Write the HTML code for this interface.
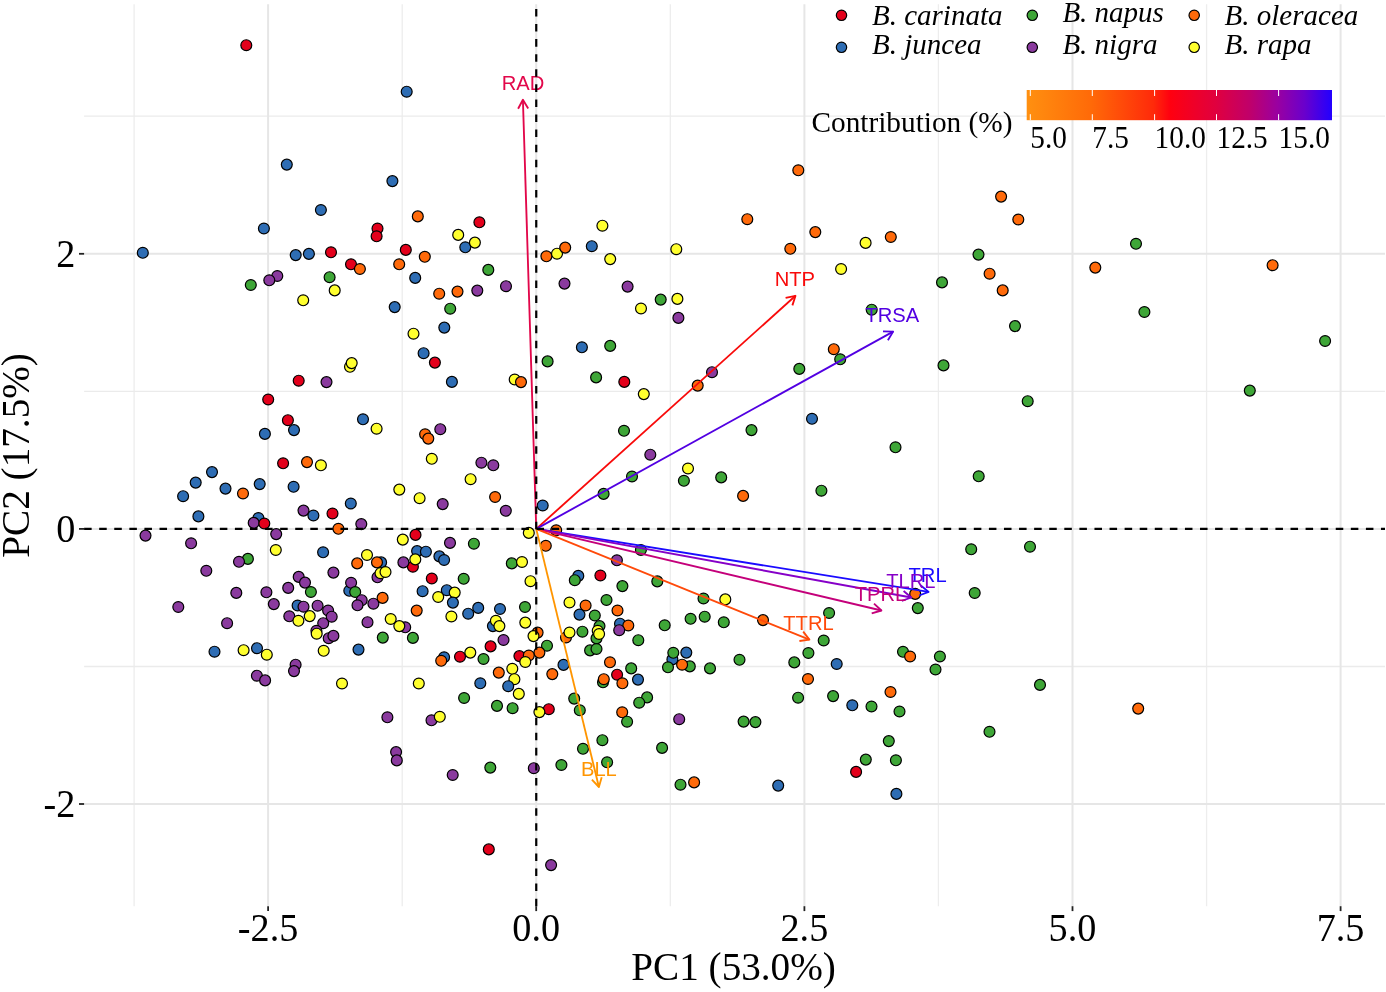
<!DOCTYPE html><html><head><meta charset="utf-8"><style>html,body{margin:0;padding:0;background:#fff;overflow:hidden}svg{display:block;will-change:transform}</style></head><body>
<svg width="1386" height="992" viewBox="0 0 1386 992">
<rect width="1386" height="992" fill="#fff"/>
<line x1="134.1" y1="4.2" x2="134.1" y2="906.2" stroke="#EDEDED" stroke-width="1.3"/><line x1="402.2" y1="4.2" x2="402.2" y2="906.2" stroke="#EDEDED" stroke-width="1.3"/><line x1="670.3" y1="4.2" x2="670.3" y2="906.2" stroke="#EDEDED" stroke-width="1.3"/><line x1="938.4" y1="4.2" x2="938.4" y2="906.2" stroke="#EDEDED" stroke-width="1.3"/><line x1="1206.6" y1="4.2" x2="1206.6" y2="906.2" stroke="#EDEDED" stroke-width="1.3"/><line x1="84.1" y1="116.2" x2="1385.0" y2="116.2" stroke="#EBEBEB" stroke-width="1.3"/><line x1="84.1" y1="391.3" x2="1385.0" y2="391.3" stroke="#EBEBEB" stroke-width="1.3"/><line x1="84.1" y1="666.5" x2="1385.0" y2="666.5" stroke="#EBEBEB" stroke-width="1.3"/><line x1="268.1" y1="4.2" x2="268.1" y2="906.2" stroke="#E6E6E6" stroke-width="2"/><line x1="536.2" y1="4.2" x2="536.2" y2="906.2" stroke="#E6E6E6" stroke-width="2"/><line x1="804.4" y1="4.2" x2="804.4" y2="906.2" stroke="#E6E6E6" stroke-width="2"/><line x1="1072.5" y1="4.2" x2="1072.5" y2="906.2" stroke="#E6E6E6" stroke-width="2"/><line x1="1340.6" y1="4.2" x2="1340.6" y2="906.2" stroke="#E6E6E6" stroke-width="2"/><line x1="84.1" y1="253.8" x2="1385.0" y2="253.8" stroke="#E6E6E6" stroke-width="2"/><line x1="84.1" y1="528.9" x2="1385.0" y2="528.9" stroke="#E6E6E6" stroke-width="2"/><line x1="84.1" y1="804.0" x2="1385.0" y2="804.0" stroke="#E6E6E6" stroke-width="2"/>
<g stroke="#000" stroke-width="1.2">
<circle cx="349.3" cy="590.8" r="5.45" fill="#2E6DB4"/>
<circle cx="350.0" cy="366.8" r="5.45" fill="#FFFF2E"/>
<circle cx="381.1" cy="562.4" r="5.45" fill="#2E6DB4"/>
<circle cx="405.2" cy="627.3" r="5.45" fill="#8A3A9E"/>
<circle cx="412.9" cy="566.7" r="5.45" fill="#E3001B"/>
<circle cx="596.5" cy="638.4" r="5.45" fill="#3EA637"/>
<circle cx="672.4" cy="659.4" r="5.45" fill="#2E6DB4"/>
<circle cx="689.8" cy="666.4" r="5.45" fill="#3EA637"/>
<circle cx="566.0" cy="637.5" r="5.45" fill="#FF6A0A"/>
<circle cx="548.8" cy="709.2" r="5.45" fill="#E3001B"/>
<circle cx="246.3" cy="45.2" r="5.45" fill="#E3001B"/>
<circle cx="286.8" cy="164.6" r="5.45" fill="#2E6DB4"/>
<circle cx="392.4" cy="181.1" r="5.45" fill="#2E6DB4"/>
<circle cx="320.9" cy="210.0" r="5.45" fill="#2E6DB4"/>
<circle cx="406.7" cy="91.7" r="5.45" fill="#2E6DB4"/>
<circle cx="417.8" cy="216.4" r="5.45" fill="#FF6A0A"/>
<circle cx="479.4" cy="222.3" r="5.45" fill="#E3001B"/>
<circle cx="798.3" cy="170.3" r="5.45" fill="#FF6A0A"/>
<circle cx="1001.1" cy="196.6" r="5.45" fill="#FF6A0A"/>
<circle cx="747.3" cy="219.2" r="5.45" fill="#FF6A0A"/>
<circle cx="1018.3" cy="219.5" r="5.45" fill="#FF6A0A"/>
<circle cx="263.9" cy="228.5" r="5.45" fill="#2E6DB4"/>
<circle cx="377.5" cy="228.5" r="5.45" fill="#E3001B"/>
<circle cx="376.6" cy="236.3" r="5.45" fill="#E3001B"/>
<circle cx="142.8" cy="252.8" r="5.45" fill="#2E6DB4"/>
<circle cx="295.7" cy="255.1" r="5.45" fill="#2E6DB4"/>
<circle cx="308.9" cy="253.9" r="5.45" fill="#2E6DB4"/>
<circle cx="331.0" cy="252.3" r="5.45" fill="#E3001B"/>
<circle cx="405.8" cy="249.9" r="5.45" fill="#E3001B"/>
<circle cx="351.0" cy="264.3" r="5.45" fill="#E3001B"/>
<circle cx="359.9" cy="269.0" r="5.45" fill="#FF6A0A"/>
<circle cx="399.2" cy="264.3" r="5.45" fill="#FF6A0A"/>
<circle cx="329.6" cy="277.2" r="5.45" fill="#3EA637"/>
<circle cx="277.3" cy="276.0" r="5.45" fill="#8A3A9E"/>
<circle cx="269.3" cy="280.3" r="5.45" fill="#8A3A9E"/>
<circle cx="250.8" cy="285.0" r="5.45" fill="#3EA637"/>
<circle cx="334.7" cy="290.4" r="5.45" fill="#FFFF2E"/>
<circle cx="303.2" cy="300.3" r="5.45" fill="#FFFF2E"/>
<circle cx="394.7" cy="307.1" r="5.45" fill="#2E6DB4"/>
<circle cx="351.7" cy="363.1" r="5.45" fill="#FFFF2E"/>
<circle cx="298.7" cy="380.7" r="5.45" fill="#E3001B"/>
<circle cx="326.5" cy="382.1" r="5.45" fill="#8A3A9E"/>
<circle cx="268.2" cy="399.5" r="5.45" fill="#E3001B"/>
<circle cx="287.9" cy="420.2" r="5.45" fill="#E3001B"/>
<circle cx="294.0" cy="430.1" r="5.45" fill="#2E6DB4"/>
<circle cx="264.9" cy="433.9" r="5.45" fill="#2E6DB4"/>
<circle cx="363.0" cy="419.3" r="5.45" fill="#2E6DB4"/>
<circle cx="376.6" cy="428.7" r="5.45" fill="#FFFF2E"/>
<circle cx="602.4" cy="225.7" r="5.45" fill="#FFFF2E"/>
<circle cx="458.2" cy="234.9" r="5.45" fill="#FFFF2E"/>
<circle cx="465.3" cy="247.3" r="5.45" fill="#2E6DB4"/>
<circle cx="474.9" cy="242.6" r="5.45" fill="#FFFF2E"/>
<circle cx="424.8" cy="256.8" r="5.45" fill="#FF6A0A"/>
<circle cx="488.3" cy="269.9" r="5.45" fill="#3EA637"/>
<circle cx="415.2" cy="277.9" r="5.45" fill="#2E6DB4"/>
<circle cx="506.0" cy="286.2" r="5.45" fill="#8A3A9E"/>
<circle cx="439.2" cy="293.7" r="5.45" fill="#FF6A0A"/>
<circle cx="457.5" cy="291.6" r="5.45" fill="#FF6A0A"/>
<circle cx="477.3" cy="290.6" r="5.45" fill="#8A3A9E"/>
<circle cx="450.2" cy="308.7" r="5.45" fill="#3EA637"/>
<circle cx="444.3" cy="327.6" r="5.45" fill="#2E6DB4"/>
<circle cx="413.5" cy="333.7" r="5.45" fill="#FFFF2E"/>
<circle cx="423.6" cy="353.2" r="5.45" fill="#2E6DB4"/>
<circle cx="434.9" cy="362.6" r="5.45" fill="#E3001B"/>
<circle cx="451.9" cy="381.9" r="5.45" fill="#2E6DB4"/>
<circle cx="514.7" cy="379.5" r="5.45" fill="#FFFF2E"/>
<circle cx="521.0" cy="382.1" r="5.45" fill="#FF6A0A"/>
<circle cx="425.1" cy="434.3" r="5.45" fill="#FF6A0A"/>
<circle cx="428.3" cy="438.6" r="5.45" fill="#FF6A0A"/>
<circle cx="440.3" cy="429.2" r="5.45" fill="#8A3A9E"/>
<circle cx="546.4" cy="256.3" r="5.45" fill="#FF6A0A"/>
<circle cx="557.0" cy="253.7" r="5.45" fill="#FFFF2E"/>
<circle cx="565.2" cy="247.6" r="5.45" fill="#FF6A0A"/>
<circle cx="591.8" cy="246.2" r="5.45" fill="#2E6DB4"/>
<circle cx="610.2" cy="259.1" r="5.45" fill="#FFFF2E"/>
<circle cx="676.3" cy="249.2" r="5.45" fill="#FFFF2E"/>
<circle cx="564.5" cy="283.6" r="5.45" fill="#8A3A9E"/>
<circle cx="627.6" cy="286.6" r="5.45" fill="#8A3A9E"/>
<circle cx="660.7" cy="299.6" r="5.45" fill="#3EA637"/>
<circle cx="677.4" cy="298.9" r="5.45" fill="#FFFF2E"/>
<circle cx="641.0" cy="308.5" r="5.45" fill="#FFFF2E"/>
<circle cx="678.4" cy="317.9" r="5.45" fill="#8A3A9E"/>
<circle cx="581.9" cy="347.3" r="5.45" fill="#2E6DB4"/>
<circle cx="610.2" cy="345.9" r="5.45" fill="#3EA637"/>
<circle cx="547.6" cy="361.4" r="5.45" fill="#3EA637"/>
<circle cx="596.1" cy="377.4" r="5.45" fill="#3EA637"/>
<circle cx="624.3" cy="381.9" r="5.45" fill="#E3001B"/>
<circle cx="643.8" cy="394.1" r="5.45" fill="#FFFF2E"/>
<circle cx="697.7" cy="385.6" r="5.45" fill="#FF6A0A"/>
<circle cx="712.0" cy="372.2" r="5.45" fill="#8A3A9E"/>
<circle cx="624.0" cy="430.8" r="5.45" fill="#3EA637"/>
<circle cx="815.3" cy="232.1" r="5.45" fill="#FF6A0A"/>
<circle cx="790.3" cy="248.8" r="5.45" fill="#FF6A0A"/>
<circle cx="865.6" cy="242.9" r="5.45" fill="#FFFF2E"/>
<circle cx="890.8" cy="237.0" r="5.45" fill="#FF6A0A"/>
<circle cx="841.1" cy="269.0" r="5.45" fill="#FFFF2E"/>
<circle cx="978.5" cy="254.6" r="5.45" fill="#3EA637"/>
<circle cx="989.6" cy="273.7" r="5.45" fill="#FF6A0A"/>
<circle cx="1002.7" cy="290.4" r="5.45" fill="#FF6A0A"/>
<circle cx="942.0" cy="282.4" r="5.45" fill="#3EA637"/>
<circle cx="871.7" cy="309.7" r="5.45" fill="#3EA637"/>
<circle cx="1015.0" cy="326.1" r="5.45" fill="#3EA637"/>
<circle cx="833.8" cy="349.2" r="5.45" fill="#FF6A0A"/>
<circle cx="840.2" cy="359.3" r="5.45" fill="#3EA637"/>
<circle cx="799.3" cy="368.9" r="5.45" fill="#3EA637"/>
<circle cx="943.5" cy="365.4" r="5.45" fill="#3EA637"/>
<circle cx="1027.7" cy="401.2" r="5.45" fill="#3EA637"/>
<circle cx="812.0" cy="418.8" r="5.45" fill="#2E6DB4"/>
<circle cx="751.5" cy="430.1" r="5.45" fill="#3EA637"/>
<circle cx="895.5" cy="447.3" r="5.45" fill="#3EA637"/>
<circle cx="1136.0" cy="243.8" r="5.45" fill="#3EA637"/>
<circle cx="1095.3" cy="267.6" r="5.45" fill="#FF6A0A"/>
<circle cx="1272.6" cy="265.2" r="5.45" fill="#FF6A0A"/>
<circle cx="1144.4" cy="312.0" r="5.45" fill="#3EA637"/>
<circle cx="1325.1" cy="341.0" r="5.45" fill="#3EA637"/>
<circle cx="1249.8" cy="390.6" r="5.45" fill="#3EA637"/>
<circle cx="212.0" cy="472.1" r="5.45" fill="#2E6DB4"/>
<circle cx="195.7" cy="482.6" r="5.45" fill="#2E6DB4"/>
<circle cx="183.1" cy="496.2" r="5.45" fill="#2E6DB4"/>
<circle cx="225.5" cy="488.6" r="5.45" fill="#2E6DB4"/>
<circle cx="243.0" cy="493.5" r="5.45" fill="#FF6A0A"/>
<circle cx="198.4" cy="516.4" r="5.45" fill="#2E6DB4"/>
<circle cx="145.5" cy="535.6" r="5.45" fill="#8A3A9E"/>
<circle cx="191.1" cy="543.3" r="5.45" fill="#8A3A9E"/>
<circle cx="283.1" cy="463.3" r="5.45" fill="#E3001B"/>
<circle cx="307.0" cy="462.1" r="5.45" fill="#FF6A0A"/>
<circle cx="320.9" cy="465.3" r="5.45" fill="#FFFF2E"/>
<circle cx="259.7" cy="484.1" r="5.45" fill="#2E6DB4"/>
<circle cx="293.6" cy="486.8" r="5.45" fill="#2E6DB4"/>
<circle cx="399.3" cy="489.6" r="5.45" fill="#FFFF2E"/>
<circle cx="350.8" cy="503.5" r="5.45" fill="#2E6DB4"/>
<circle cx="303.5" cy="510.6" r="5.45" fill="#8A3A9E"/>
<circle cx="313.4" cy="515.5" r="5.45" fill="#2E6DB4"/>
<circle cx="332.5" cy="513.5" r="5.45" fill="#E3001B"/>
<circle cx="258.4" cy="518.0" r="5.45" fill="#2E6DB4"/>
<circle cx="253.7" cy="522.9" r="5.45" fill="#8A3A9E"/>
<circle cx="264.3" cy="523.5" r="5.45" fill="#E3001B"/>
<circle cx="361.3" cy="524.1" r="5.45" fill="#8A3A9E"/>
<circle cx="338.4" cy="528.8" r="5.45" fill="#FF6A0A"/>
<circle cx="276.2" cy="534.1" r="5.45" fill="#8A3A9E"/>
<circle cx="402.8" cy="539.6" r="5.45" fill="#FFFF2E"/>
<circle cx="275.8" cy="550.0" r="5.45" fill="#FFFF2E"/>
<circle cx="323.1" cy="552.3" r="5.45" fill="#2E6DB4"/>
<circle cx="367.0" cy="555.0" r="5.45" fill="#FFFF2E"/>
<circle cx="247.9" cy="558.9" r="5.45" fill="#3EA637"/>
<circle cx="239.0" cy="561.8" r="5.45" fill="#8A3A9E"/>
<circle cx="206.3" cy="570.8" r="5.45" fill="#8A3A9E"/>
<circle cx="236.3" cy="592.9" r="5.45" fill="#8A3A9E"/>
<circle cx="178.3" cy="607.0" r="5.45" fill="#8A3A9E"/>
<circle cx="227.1" cy="623.2" r="5.45" fill="#8A3A9E"/>
<circle cx="214.5" cy="651.7" r="5.45" fill="#2E6DB4"/>
<circle cx="243.6" cy="650.2" r="5.45" fill="#FFFF2E"/>
<circle cx="357.2" cy="563.4" r="5.45" fill="#FF6A0A"/>
<circle cx="377.0" cy="562.4" r="5.45" fill="#FF6A0A"/>
<circle cx="403.4" cy="562.4" r="5.45" fill="#8A3A9E"/>
<circle cx="333.4" cy="572.6" r="5.45" fill="#8A3A9E"/>
<circle cx="298.7" cy="576.9" r="5.45" fill="#8A3A9E"/>
<circle cx="305.0" cy="582.6" r="5.45" fill="#8A3A9E"/>
<circle cx="310.9" cy="592.0" r="5.45" fill="#3EA637"/>
<circle cx="288.2" cy="587.9" r="5.45" fill="#8A3A9E"/>
<circle cx="266.4" cy="592.3" r="5.45" fill="#8A3A9E"/>
<circle cx="273.8" cy="604.1" r="5.45" fill="#8A3A9E"/>
<circle cx="351.1" cy="582.8" r="5.45" fill="#8A3A9E"/>
<circle cx="355.2" cy="592.0" r="5.45" fill="#3EA637"/>
<circle cx="361.7" cy="600.2" r="5.45" fill="#8A3A9E"/>
<circle cx="357.5" cy="605.3" r="5.45" fill="#8A3A9E"/>
<circle cx="373.4" cy="603.7" r="5.45" fill="#8A3A9E"/>
<circle cx="382.6" cy="597.9" r="5.45" fill="#FF6A0A"/>
<circle cx="377.5" cy="577.3" r="5.45" fill="#8A3A9E"/>
<circle cx="380.5" cy="573.2" r="5.45" fill="#FFFF2E"/>
<circle cx="385.5" cy="572.0" r="5.45" fill="#FFFF2E"/>
<circle cx="297.6" cy="605.5" r="5.45" fill="#2E6DB4"/>
<circle cx="303.5" cy="606.7" r="5.45" fill="#8A3A9E"/>
<circle cx="317.6" cy="605.7" r="5.45" fill="#8A3A9E"/>
<circle cx="328.1" cy="610.5" r="5.45" fill="#8A3A9E"/>
<circle cx="331.7" cy="616.7" r="5.45" fill="#8A3A9E"/>
<circle cx="289.3" cy="616.3" r="5.45" fill="#8A3A9E"/>
<circle cx="298.4" cy="620.8" r="5.45" fill="#FFFF2E"/>
<circle cx="309.7" cy="616.1" r="5.45" fill="#FFFF2E"/>
<circle cx="323.2" cy="623.2" r="5.45" fill="#8A3A9E"/>
<circle cx="316.4" cy="630.8" r="5.45" fill="#8A3A9E"/>
<circle cx="316.7" cy="633.7" r="5.45" fill="#FFFF2E"/>
<circle cx="328.7" cy="638.2" r="5.45" fill="#8A3A9E"/>
<circle cx="333.4" cy="635.9" r="5.45" fill="#8A3A9E"/>
<circle cx="367.5" cy="622.2" r="5.45" fill="#8A3A9E"/>
<circle cx="390.7" cy="619.0" r="5.45" fill="#FFFF2E"/>
<circle cx="399.3" cy="626.1" r="5.45" fill="#FFFF2E"/>
<circle cx="382.8" cy="637.6" r="5.45" fill="#3EA637"/>
<circle cx="358.5" cy="649.6" r="5.45" fill="#2E6DB4"/>
<circle cx="323.7" cy="650.8" r="5.45" fill="#FFFF2E"/>
<circle cx="257.0" cy="648.2" r="5.45" fill="#2E6DB4"/>
<circle cx="266.8" cy="654.7" r="5.45" fill="#FFFF2E"/>
<circle cx="295.6" cy="664.7" r="5.45" fill="#8A3A9E"/>
<circle cx="294.0" cy="671.1" r="5.45" fill="#8A3A9E"/>
<circle cx="431.8" cy="458.8" r="5.45" fill="#FFFF2E"/>
<circle cx="481.4" cy="462.7" r="5.45" fill="#8A3A9E"/>
<circle cx="493.3" cy="465.3" r="5.45" fill="#8A3A9E"/>
<circle cx="470.6" cy="479.2" r="5.45" fill="#FFFF2E"/>
<circle cx="419.6" cy="498.2" r="5.45" fill="#FFFF2E"/>
<circle cx="442.7" cy="504.1" r="5.45" fill="#8A3A9E"/>
<circle cx="495.1" cy="497.0" r="5.45" fill="#FF6A0A"/>
<circle cx="505.8" cy="510.8" r="5.45" fill="#8A3A9E"/>
<circle cx="542.7" cy="505.5" r="5.45" fill="#2E6DB4"/>
<circle cx="528.8" cy="532.9" r="5.45" fill="#FFFF2E"/>
<circle cx="556.2" cy="530.3" r="5.45" fill="#FF6A0A"/>
<circle cx="415.5" cy="534.9" r="5.45" fill="#E3001B"/>
<circle cx="450.0" cy="542.9" r="5.45" fill="#8A3A9E"/>
<circle cx="473.9" cy="543.7" r="5.45" fill="#3EA637"/>
<circle cx="545.8" cy="545.8" r="5.45" fill="#FF6A0A"/>
<circle cx="417.1" cy="551.1" r="5.45" fill="#2E6DB4"/>
<circle cx="425.9" cy="551.7" r="5.45" fill="#2E6DB4"/>
<circle cx="439.4" cy="556.4" r="5.45" fill="#2E6DB4"/>
<circle cx="444.1" cy="560.0" r="5.45" fill="#2E6DB4"/>
<circle cx="415.3" cy="559.4" r="5.45" fill="#FFFF2E"/>
<circle cx="511.8" cy="563.4" r="5.45" fill="#3EA637"/>
<circle cx="522.0" cy="562.0" r="5.45" fill="#FFFF2E"/>
<circle cx="431.8" cy="578.5" r="5.45" fill="#E3001B"/>
<circle cx="463.7" cy="578.8" r="5.45" fill="#3EA637"/>
<circle cx="422.6" cy="591.2" r="5.45" fill="#2E6DB4"/>
<circle cx="446.8" cy="590.2" r="5.45" fill="#2E6DB4"/>
<circle cx="438.2" cy="597.0" r="5.45" fill="#FFFF2E"/>
<circle cx="454.7" cy="592.6" r="5.45" fill="#FFFF2E"/>
<circle cx="452.9" cy="602.6" r="5.45" fill="#2E6DB4"/>
<circle cx="416.7" cy="610.6" r="5.45" fill="#FF6A0A"/>
<circle cx="451.4" cy="616.5" r="5.45" fill="#FFFF2E"/>
<circle cx="468.2" cy="613.7" r="5.45" fill="#2E6DB4"/>
<circle cx="478.2" cy="607.9" r="5.45" fill="#2E6DB4"/>
<circle cx="500.0" cy="609.0" r="5.45" fill="#2E6DB4"/>
<circle cx="530.5" cy="581.2" r="5.45" fill="#FFFF2E"/>
<circle cx="525.0" cy="607.0" r="5.45" fill="#3EA637"/>
<circle cx="525.3" cy="622.6" r="5.45" fill="#FFFF2E"/>
<circle cx="492.9" cy="626.1" r="5.45" fill="#2E6DB4"/>
<circle cx="495.9" cy="620.8" r="5.45" fill="#FFFF2E"/>
<circle cx="499.4" cy="626.1" r="5.45" fill="#FFFF2E"/>
<circle cx="412.9" cy="637.9" r="5.45" fill="#3EA637"/>
<circle cx="503.5" cy="640.0" r="5.45" fill="#8A3A9E"/>
<circle cx="490.6" cy="646.4" r="5.45" fill="#E3001B"/>
<circle cx="537.6" cy="632.6" r="5.45" fill="#FF6A0A"/>
<circle cx="533.5" cy="636.1" r="5.45" fill="#FFFF2E"/>
<circle cx="547.0" cy="645.7" r="5.45" fill="#3EA637"/>
<circle cx="539.4" cy="652.6" r="5.45" fill="#FF6A0A"/>
<circle cx="519.4" cy="656.1" r="5.45" fill="#E3001B"/>
<circle cx="528.8" cy="655.5" r="5.45" fill="#FF6A0A"/>
<circle cx="525.3" cy="662.0" r="5.45" fill="#FFFF2E"/>
<circle cx="460.0" cy="656.7" r="5.45" fill="#E3001B"/>
<circle cx="470.3" cy="652.6" r="5.45" fill="#FFFF2E"/>
<circle cx="483.5" cy="659.0" r="5.45" fill="#3EA637"/>
<circle cx="444.1" cy="657.3" r="5.45" fill="#2E6DB4"/>
<circle cx="441.2" cy="660.8" r="5.45" fill="#FF6A0A"/>
<circle cx="512.3" cy="668.8" r="5.45" fill="#FFFF2E"/>
<circle cx="563.5" cy="664.9" r="5.45" fill="#2E6DB4"/>
<circle cx="650.3" cy="454.7" r="5.45" fill="#8A3A9E"/>
<circle cx="688.0" cy="468.5" r="5.45" fill="#FFFF2E"/>
<circle cx="683.9" cy="480.8" r="5.45" fill="#3EA637"/>
<circle cx="721.2" cy="477.4" r="5.45" fill="#3EA637"/>
<circle cx="632.0" cy="476.5" r="5.45" fill="#3EA637"/>
<circle cx="603.6" cy="493.9" r="5.45" fill="#3EA637"/>
<circle cx="640.9" cy="550.0" r="5.45" fill="#3EA637"/>
<circle cx="616.9" cy="560.3" r="5.45" fill="#8A3A9E"/>
<circle cx="578.3" cy="575.9" r="5.45" fill="#2E6DB4"/>
<circle cx="574.8" cy="580.2" r="5.45" fill="#3EA637"/>
<circle cx="600.4" cy="575.5" r="5.45" fill="#E3001B"/>
<circle cx="622.4" cy="586.1" r="5.45" fill="#3EA637"/>
<circle cx="657.3" cy="581.4" r="5.45" fill="#3EA637"/>
<circle cx="606.5" cy="600.0" r="5.45" fill="#3EA637"/>
<circle cx="585.6" cy="605.5" r="5.45" fill="#FF6A0A"/>
<circle cx="579.5" cy="614.6" r="5.45" fill="#2E6DB4"/>
<circle cx="594.8" cy="615.5" r="5.45" fill="#3EA637"/>
<circle cx="617.5" cy="610.5" r="5.45" fill="#FF6A0A"/>
<circle cx="599.5" cy="626.1" r="5.45" fill="#3EA637"/>
<circle cx="597.7" cy="630.8" r="5.45" fill="#FFFF2E"/>
<circle cx="599.1" cy="634.0" r="5.45" fill="#FFFF2E"/>
<circle cx="582.4" cy="631.7" r="5.45" fill="#3EA637"/>
<circle cx="620.0" cy="623.7" r="5.45" fill="#2E6DB4"/>
<circle cx="628.3" cy="625.5" r="5.45" fill="#FF6A0A"/>
<circle cx="619.2" cy="630.2" r="5.45" fill="#8A3A9E"/>
<circle cx="664.7" cy="625.3" r="5.45" fill="#3EA637"/>
<circle cx="638.3" cy="640.2" r="5.45" fill="#3EA637"/>
<circle cx="590.1" cy="650.4" r="5.45" fill="#3EA637"/>
<circle cx="596.5" cy="649.0" r="5.45" fill="#3EA637"/>
<circle cx="610.0" cy="662.3" r="5.45" fill="#FF6A0A"/>
<circle cx="631.2" cy="668.4" r="5.45" fill="#3EA637"/>
<circle cx="703.5" cy="598.5" r="5.45" fill="#3EA637"/>
<circle cx="725.3" cy="599.4" r="5.45" fill="#FFFF2E"/>
<circle cx="690.6" cy="618.8" r="5.45" fill="#3EA637"/>
<circle cx="704.7" cy="616.7" r="5.45" fill="#3EA637"/>
<circle cx="723.8" cy="622.3" r="5.45" fill="#3EA637"/>
<circle cx="673.3" cy="652.8" r="5.45" fill="#3EA637"/>
<circle cx="686.3" cy="652.6" r="5.45" fill="#2E6DB4"/>
<circle cx="682.1" cy="664.7" r="5.45" fill="#FF6A0A"/>
<circle cx="668.0" cy="667.3" r="5.45" fill="#3EA637"/>
<circle cx="710.0" cy="668.4" r="5.45" fill="#3EA637"/>
<circle cx="569.5" cy="602.5" r="5.45" fill="#FFFF2E"/>
<circle cx="569.5" cy="632.5" r="5.45" fill="#FFFF2E"/>
<circle cx="978.7" cy="476.3" r="5.45" fill="#3EA637"/>
<circle cx="743.1" cy="495.9" r="5.45" fill="#FF6A0A"/>
<circle cx="821.4" cy="490.7" r="5.45" fill="#3EA637"/>
<circle cx="971.2" cy="549.3" r="5.45" fill="#3EA637"/>
<circle cx="1030.0" cy="546.7" r="5.45" fill="#3EA637"/>
<circle cx="915.2" cy="593.9" r="5.45" fill="#FF6A0A"/>
<circle cx="917.8" cy="608.1" r="5.45" fill="#3EA637"/>
<circle cx="974.7" cy="593.0" r="5.45" fill="#3EA637"/>
<circle cx="829.1" cy="613.0" r="5.45" fill="#3EA637"/>
<circle cx="763.0" cy="620.1" r="5.45" fill="#FF6A0A"/>
<circle cx="823.7" cy="640.5" r="5.45" fill="#3EA637"/>
<circle cx="808.4" cy="653.0" r="5.45" fill="#3EA637"/>
<circle cx="739.5" cy="659.8" r="5.45" fill="#3EA637"/>
<circle cx="794.3" cy="662.4" r="5.45" fill="#3EA637"/>
<circle cx="836.7" cy="664.0" r="5.45" fill="#2E6DB4"/>
<circle cx="903.0" cy="651.8" r="5.45" fill="#3EA637"/>
<circle cx="910.1" cy="656.5" r="5.45" fill="#FF6A0A"/>
<circle cx="939.9" cy="656.5" r="5.45" fill="#3EA637"/>
<circle cx="935.5" cy="669.5" r="5.45" fill="#3EA637"/>
<circle cx="256.9" cy="675.7" r="5.45" fill="#8A3A9E"/>
<circle cx="265.1" cy="680.4" r="5.45" fill="#8A3A9E"/>
<circle cx="342.0" cy="683.5" r="5.45" fill="#FFFF2E"/>
<circle cx="387.4" cy="717.3" r="5.45" fill="#8A3A9E"/>
<circle cx="396.1" cy="752.1" r="5.45" fill="#8A3A9E"/>
<circle cx="396.8" cy="760.4" r="5.45" fill="#8A3A9E"/>
<circle cx="498.8" cy="672.6" r="5.45" fill="#FF6A0A"/>
<circle cx="552.3" cy="674.1" r="5.45" fill="#FF6A0A"/>
<circle cx="418.8" cy="683.5" r="5.45" fill="#FFFF2E"/>
<circle cx="480.3" cy="683.3" r="5.45" fill="#2E6DB4"/>
<circle cx="514.4" cy="679.2" r="5.45" fill="#FFFF2E"/>
<circle cx="508.2" cy="686.2" r="5.45" fill="#2E6DB4"/>
<circle cx="518.8" cy="693.9" r="5.45" fill="#FFFF2E"/>
<circle cx="464.1" cy="698.0" r="5.45" fill="#3EA637"/>
<circle cx="497.0" cy="705.9" r="5.45" fill="#3EA637"/>
<circle cx="512.6" cy="708.2" r="5.45" fill="#3EA637"/>
<circle cx="539.4" cy="712.1" r="5.45" fill="#FFFF2E"/>
<circle cx="431.5" cy="720.3" r="5.45" fill="#8A3A9E"/>
<circle cx="439.8" cy="716.8" r="5.45" fill="#FFFF2E"/>
<circle cx="490.3" cy="767.6" r="5.45" fill="#3EA637"/>
<circle cx="533.8" cy="768.2" r="5.45" fill="#8A3A9E"/>
<circle cx="561.4" cy="765.0" r="5.45" fill="#3EA637"/>
<circle cx="452.7" cy="775.0" r="5.45" fill="#8A3A9E"/>
<circle cx="617.1" cy="674.7" r="5.45" fill="#E3001B"/>
<circle cx="603.0" cy="682.3" r="5.45" fill="#3EA637"/>
<circle cx="603.8" cy="679.2" r="5.45" fill="#FF6A0A"/>
<circle cx="622.4" cy="683.3" r="5.45" fill="#FF6A0A"/>
<circle cx="638.0" cy="679.6" r="5.45" fill="#2E6DB4"/>
<circle cx="647.1" cy="697.4" r="5.45" fill="#3EA637"/>
<circle cx="639.2" cy="702.7" r="5.45" fill="#3EA637"/>
<circle cx="574.2" cy="698.6" r="5.45" fill="#3EA637"/>
<circle cx="579.8" cy="710.3" r="5.45" fill="#3EA637"/>
<circle cx="622.2" cy="712.3" r="5.45" fill="#FF6A0A"/>
<circle cx="627.1" cy="721.7" r="5.45" fill="#3EA637"/>
<circle cx="679.2" cy="719.2" r="5.45" fill="#8A3A9E"/>
<circle cx="602.4" cy="740.2" r="5.45" fill="#3EA637"/>
<circle cx="583.0" cy="748.8" r="5.45" fill="#3EA637"/>
<circle cx="662.1" cy="747.9" r="5.45" fill="#3EA637"/>
<circle cx="607.1" cy="762.3" r="5.45" fill="#3EA637"/>
<circle cx="680.5" cy="784.7" r="5.45" fill="#3EA637"/>
<circle cx="694.1" cy="782.4" r="5.45" fill="#FF6A0A"/>
<circle cx="488.8" cy="849.4" r="5.45" fill="#E3001B"/>
<circle cx="551.1" cy="865.1" r="5.45" fill="#8A3A9E"/>
<circle cx="808.0" cy="679.0" r="5.45" fill="#FF6A0A"/>
<circle cx="1040.0" cy="684.9" r="5.45" fill="#3EA637"/>
<circle cx="798.1" cy="697.7" r="5.45" fill="#3EA637"/>
<circle cx="833.1" cy="696.1" r="5.45" fill="#3EA637"/>
<circle cx="852.3" cy="705.3" r="5.45" fill="#2E6DB4"/>
<circle cx="871.5" cy="706.5" r="5.45" fill="#3EA637"/>
<circle cx="890.5" cy="692.0" r="5.45" fill="#FF6A0A"/>
<circle cx="899.5" cy="711.5" r="5.45" fill="#3EA637"/>
<circle cx="743.6" cy="721.6" r="5.45" fill="#3EA637"/>
<circle cx="755.4" cy="722.1" r="5.45" fill="#3EA637"/>
<circle cx="989.5" cy="731.8" r="5.45" fill="#3EA637"/>
<circle cx="888.8" cy="741.1" r="5.45" fill="#3EA637"/>
<circle cx="865.8" cy="759.6" r="5.45" fill="#3EA637"/>
<circle cx="895.9" cy="760.3" r="5.45" fill="#3EA637"/>
<circle cx="856.1" cy="771.9" r="5.45" fill="#E3001B"/>
<circle cx="778.2" cy="785.6" r="5.45" fill="#2E6DB4"/>
<circle cx="896.4" cy="793.9" r="5.45" fill="#2E6DB4"/>
<circle cx="1138.2" cy="708.6" r="5.45" fill="#FF6A0A"/>
</g>
<g stroke="#E2074A" stroke-width="1.85" fill="none" stroke-linecap="butt" stroke-linejoin="round"><line x1="536.25" y1="528.9" x2="522.9" y2="99.8"/><polyline points="528.2,108.4 522.9,99.8 518.1,108.7"/></g>
<g stroke="#F80A0A" stroke-width="1.85" fill="none" stroke-linecap="butt" stroke-linejoin="round"><line x1="536.25" y1="528.9" x2="795.5" y2="295.8"/><polyline points="792.4,305.4 795.5,295.8 785.6,297.9"/></g>
<g stroke="#5200E2" stroke-width="1.85" fill="none" stroke-linecap="butt" stroke-linejoin="round"><line x1="536.25" y1="528.9" x2="893.1" y2="331.6"/><polyline points="887.9,340.3 893.1,331.6 883.0,331.4"/></g>
<g stroke="#1A0AFF" stroke-width="1.85" fill="none" stroke-linecap="butt" stroke-linejoin="round"><line x1="536.25" y1="528.9" x2="928.6" y2="591.9"/><polyline points="919.2,595.5 928.6,591.9 920.8,585.5"/></g>
<g stroke="#8600C8" stroke-width="1.85" fill="none" stroke-linecap="butt" stroke-linejoin="round"><line x1="536.25" y1="528.9" x2="911.3" y2="597.5"/><polyline points="901.8,600.9 911.3,597.5 903.6,591.0"/></g>
<g stroke="#C4007A" stroke-width="1.85" fill="none" stroke-linecap="butt" stroke-linejoin="round"><line x1="536.25" y1="528.9" x2="881.4" y2="610.5"/><polyline points="871.7,613.4 881.4,610.5 874.0,603.6"/></g>
<g stroke="#FF4A0A" stroke-width="1.85" fill="none" stroke-linecap="butt" stroke-linejoin="round"><line x1="536.25" y1="528.9" x2="809.4" y2="639.6"/><polyline points="799.4,641.0 809.4,639.6 803.2,631.6"/></g>
<g stroke="#FF9500" stroke-width="1.85" fill="none" stroke-linecap="butt" stroke-linejoin="round"><line x1="536.25" y1="528.9" x2="598.9" y2="787.0"/><polyline points="591.9,779.7 598.9,787.0 601.7,777.3"/></g>
<text transform="translate(523.0,89.9) scale(1.035,1)" fill="#E2074A" font-family="Liberation Sans" font-size="19.5" text-anchor="middle">RAD</text>
<text transform="translate(794.9,285.9) scale(1.035,1)" fill="#F80A0A" font-family="Liberation Sans" font-size="19.5" text-anchor="middle">NTP</text>
<text transform="translate(892.2,321.8) scale(1.035,1)" fill="#5200E2" font-family="Liberation Sans" font-size="19.5" text-anchor="middle">TRSA</text>
<text transform="translate(927.6,581.6) scale(1.035,1)" fill="#1A0AFF" font-family="Liberation Sans" font-size="19.5" text-anchor="middle">TRL</text>
<text transform="translate(910.8,587.8) scale(1.035,1)" fill="#8600C8" font-family="Liberation Sans" font-size="19.5" text-anchor="middle">TLRL</text>
<text transform="translate(880.5,600.6) scale(1.035,1)" fill="#C4007A" font-family="Liberation Sans" font-size="19.5" text-anchor="middle">TPRL</text>
<text transform="translate(808.5,629.5) scale(1.035,1)" fill="#FF4A0A" font-family="Liberation Sans" font-size="19.5" text-anchor="middle">TTRL</text>
<text transform="translate(598.9,776.3) scale(1.035,1)" fill="#FF9500" font-family="Liberation Sans" font-size="19.5" text-anchor="middle">BLL</text>
<line x1="84.1" y1="528.9" x2="1385.0" y2="528.9" stroke="#000" stroke-width="2.2" stroke-dasharray="7.54 7.54"/>
<line x1="536.25" y1="906.2" x2="536.25" y2="4.2" stroke="#000" stroke-width="2.2" stroke-dasharray="7.54 7.54"/>
<line x1="79" y1="253.8" x2="84.1" y2="253.8" stroke="#222" stroke-width="1.8"/><line x1="79" y1="528.9" x2="84.1" y2="528.9" stroke="#222" stroke-width="1.8"/><line x1="79" y1="804.0" x2="84.1" y2="804.0" stroke="#222" stroke-width="1.8"/><line x1="268.1" y1="906.2" x2="268.1" y2="911.1" stroke="#222" stroke-width="1.8"/><line x1="536.2" y1="906.2" x2="536.2" y2="911.1" stroke="#222" stroke-width="1.8"/><line x1="804.4" y1="906.2" x2="804.4" y2="911.1" stroke="#222" stroke-width="1.8"/><line x1="1072.5" y1="906.2" x2="1072.5" y2="911.1" stroke="#222" stroke-width="1.8"/><line x1="1340.6" y1="906.2" x2="1340.6" y2="911.1" stroke="#222" stroke-width="1.8"/>
<text transform="translate(75.4,267.1) scale(1,1.04)" font-family="Liberation Serif" font-size="38.2" text-anchor="end">2</text>
<text transform="translate(75.4,542.2) scale(1,1.04)" font-family="Liberation Serif" font-size="38.2" text-anchor="end">0</text>
<text transform="translate(75.4,817.3) scale(1,1.04)" font-family="Liberation Serif" font-size="38.2" text-anchor="end">-2</text>
<text transform="translate(268.1,941.0) scale(1,1.04)" font-family="Liberation Serif" font-size="38.2" text-anchor="middle">-2.5</text>
<text transform="translate(536.2,941.0) scale(1,1.04)" font-family="Liberation Serif" font-size="38.2" text-anchor="middle">0.0</text>
<text transform="translate(804.4,941.0) scale(1,1.04)" font-family="Liberation Serif" font-size="38.2" text-anchor="middle">2.5</text>
<text transform="translate(1072.5,941.0) scale(1,1.04)" font-family="Liberation Serif" font-size="38.2" text-anchor="middle">5.0</text>
<text transform="translate(1340.6,941.0) scale(1,1.04)" font-family="Liberation Serif" font-size="38.2" text-anchor="middle">7.5</text>
<text x="733.6" y="979.9" font-family="Liberation Serif" font-size="39.2" text-anchor="middle">PC1 (53.0%)</text>
<text transform="translate(29.0,455.4) rotate(-90)" font-family="Liberation Serif" font-size="39.2" text-anchor="middle">PC2 (17.5%)</text>
<circle cx="841.5" cy="15.3" r="5.2" fill="#E3001B" stroke="#000" stroke-width="1.2"/>
<text x="872" y="24.7" font-family="Liberation Serif" font-style="italic" font-size="29">B. carinata</text>
<circle cx="841.5" cy="47.3" r="5.2" fill="#2E6DB4" stroke="#000" stroke-width="1.2"/>
<text x="872" y="53.6" font-family="Liberation Serif" font-style="italic" font-size="29">B. juncea</text>
<circle cx="1032.3" cy="15.3" r="5.2" fill="#3EA637" stroke="#000" stroke-width="1.2"/>
<text x="1062.4" y="21.6" font-family="Liberation Serif" font-style="italic" font-size="29">B. napus</text>
<circle cx="1032.3" cy="47.3" r="5.2" fill="#8A3A9E" stroke="#000" stroke-width="1.2"/>
<text x="1062.4" y="53.6" font-family="Liberation Serif" font-style="italic" font-size="29">B. nigra</text>
<circle cx="1194.2" cy="15.3" r="5.2" fill="#FF6A0A" stroke="#000" stroke-width="1.2"/>
<text x="1224.6" y="24.7" font-family="Liberation Serif" font-style="italic" font-size="29">B. oleracea</text>
<circle cx="1194.2" cy="47.3" r="5.2" fill="#FFFF2E" stroke="#000" stroke-width="1.2"/>
<text x="1224.6" y="53.6" font-family="Liberation Serif" font-style="italic" font-size="29">B. rapa</text>
<text x="811.5" y="131.7" font-family="Liberation Serif" font-size="29.3">Contribution (%)</text>
<defs><linearGradient id="cb" x1="0" x2="1" y1="0" y2="0"><stop offset="0" stop-color="#FF9010"/><stop offset="0.21" stop-color="#FF6A08"/><stop offset="0.415" stop-color="#FF2A0A"/><stop offset="0.47" stop-color="#FF0010"/><stop offset="0.62" stop-color="#E0003F"/><stop offset="0.73" stop-color="#C0006A"/><stop offset="0.82" stop-color="#9A00A0"/><stop offset="0.91" stop-color="#6A00CC"/><stop offset="1" stop-color="#2200FF"/></linearGradient></defs>
<rect x="1026.7" y="90" width="305.3" height="30.2" fill="url(#cb)"/>
<line x1="1030.3" y1="90" x2="1030.3" y2="96" stroke="#fff" stroke-width="1"/><line x1="1030.3" y1="114.2" x2="1030.3" y2="120.2" stroke="#fff" stroke-width="1"/>
<line x1="1092.3" y1="90" x2="1092.3" y2="96" stroke="#fff" stroke-width="1"/><line x1="1092.3" y1="114.2" x2="1092.3" y2="120.2" stroke="#fff" stroke-width="1"/>
<line x1="1154.6" y1="90" x2="1154.6" y2="96" stroke="#fff" stroke-width="1"/><line x1="1154.6" y1="114.2" x2="1154.6" y2="120.2" stroke="#fff" stroke-width="1"/>
<line x1="1216.5" y1="90" x2="1216.5" y2="96" stroke="#fff" stroke-width="1"/><line x1="1216.5" y1="114.2" x2="1216.5" y2="120.2" stroke="#fff" stroke-width="1"/>
<line x1="1278.6" y1="90" x2="1278.6" y2="96" stroke="#fff" stroke-width="1"/><line x1="1278.6" y1="114.2" x2="1278.6" y2="120.2" stroke="#fff" stroke-width="1"/>
<text transform="translate(1030.3,147.9) scale(1,1.045)" font-family="Liberation Serif" font-size="29.3">5.0</text>
<text transform="translate(1092.3,147.9) scale(1,1.045)" font-family="Liberation Serif" font-size="29.3">7.5</text>
<text transform="translate(1154.6,147.9) scale(1,1.045)" font-family="Liberation Serif" font-size="29.3">10.0</text>
<text transform="translate(1216.5,147.9) scale(1,1.045)" font-family="Liberation Serif" font-size="29.3">12.5</text>
<text transform="translate(1278.6,147.9) scale(1,1.045)" font-family="Liberation Serif" font-size="29.3">15.0</text>
</svg></body></html>
